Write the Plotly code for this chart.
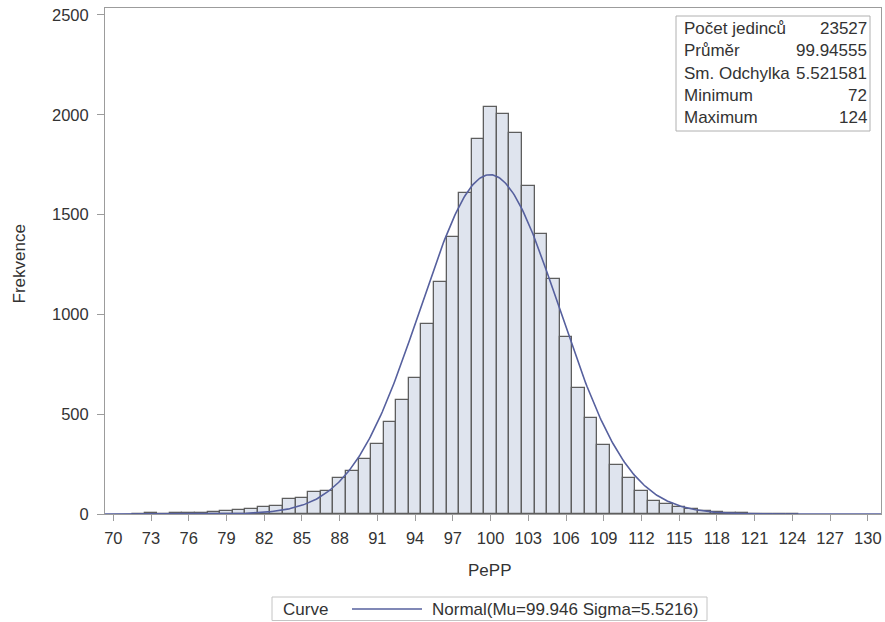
import numpy as np
import plotly.graph_objects as go

# PePP histogram: bin centres (width 1) and frequencies
bin_centers = list(range(72, 125))
frequencies = [
    1, 3, 2, 3, 5, 6, 9,                      # 72-78
    14, 21, 26, 37, 41,                       # 79-83
    74, 79, 112, 117, 178, 213, 275,          # 84-90
    350, 462, 572, 683, 950, 1162, 1387, 1608, 1878,   # 91-99
    2037, 2003, 1908, 1642, 1405, 1175, 887, 630, 480, 346,  # 100-109
    246, 179, 117, 67, 51, 37, 24, 17, 9, 5, 3, 2, 1, 1, 1,  # 110-124
]

# Summary statistics
stat_labels = ["Počet jedinců", "Průměr", "Sm. Odchylka", "Minimum", "Maximum"]
stat_values = ["23527", "99.94555", "5.521581", "72", "124"]

# Fitted normal curve parameters
N_OBS = 23527
MU = 99.946
SIGMA = 5.5216
BIN_WIDTH = 1.0

x_ticks = list(range(70, 131, 3))
y_ticks = [0, 500, 1000, 1500, 2000, 2500]

X_RANGE = [69.34, 131.05]
Y_RANGE = [0, 2535]

FONT = "Liberation Sans, Arial, sans-serif"
TEXT = "#333333"
AXIS = "#9c9c9c"
BAR_FILL = "#dfe4ee"
BAR_LINE = "#5e5e5e"
CURVE = "#56609e"

xs = np.linspace(X_RANGE[0], X_RANGE[1], 600)
curve = N_OBS * BIN_WIDTH / (SIGMA * np.sqrt(2 * np.pi)) * np.exp(-0.5 * ((xs - MU) / SIGMA) ** 2)

fig = go.Figure()
fig.add_trace(go.Bar(
    x=bin_centers, y=frequencies, width=1.0,
    marker=dict(color=BAR_FILL, line=dict(color=BAR_LINE, width=1.3)),
    showlegend=False, hoverinfo="x+y",
))
fig.add_trace(go.Scatter(
    x=xs, y=curve, mode="lines",
    line=dict(color=CURVE, width=1.6),
    showlegend=False, hoverinfo="skip",
))

# plot-area geometry in pixels (for paper-coordinate placement)
W, H = 885, 622
L, R, T, B = 105, 4, 8, 108
pw, ph = W - L - R, H - T - B


def px_x(px):
    return (px - L) / pw


def px_y(py):
    return (H - B - py) / ph


shapes = []
annotations = []

# statistics inset box
shapes.append(dict(type="rect", xref="paper", yref="paper",
                   x0=px_x(676), x1=px_x(870), y0=px_y(131), y1=px_y(16),
                   line=dict(color="#b0b0b0", width=1), fillcolor="white", layer="above"))
row_y = [28.5, 50.8, 73.0, 95.2, 117.4]
for lab, val, yy in zip(stat_labels, stat_values, row_y):
    annotations.append(dict(xref="paper", yref="paper", x=px_x(682), y=px_y(yy),
                            text=lab, showarrow=False, xanchor="left", yanchor="middle",
                            font=dict(family=FONT, size=17, color=TEXT)))
    annotations.append(dict(xref="paper", yref="paper", x=px_x(869), y=px_y(yy),
                            text=val, showarrow=False, xanchor="right", yanchor="middle",
                            font=dict(family=FONT, size=17, color=TEXT)))

# axis titles
annotations.append(dict(xref="paper", yref="paper", x=px_x(489), y=px_y(570),
                        text="PePP", showarrow=False, xanchor="center", yanchor="middle",
                        font=dict(family=FONT, size=17, color=TEXT)))
annotations.append(dict(xref="paper", yref="paper", x=px_x(18.5), y=px_y(264),
                        text="Frekvence", showarrow=False, textangle=-90,
                        xanchor="center", yanchor="middle",
                        font=dict(family=FONT, size=17, color=TEXT)))

# legend below the plot
shapes.append(dict(type="rect", xref="paper", yref="paper",
                   x0=px_x(272), x1=px_x(707), y0=px_y(620.5), y1=px_y(597),
                   line=dict(color="#c4c4c4", width=1), fillcolor="white"))
shapes.append(dict(type="line", xref="paper", yref="paper",
                   x0=px_x(352), x1=px_x(422), y0=px_y(609), y1=px_y(609),
                   line=dict(color=CURVE, width=1.6)))
annotations.append(dict(xref="paper", yref="paper", x=px_x(281), y=px_y(609),
                        text="Curve", showarrow=False, xanchor="left", yanchor="middle",
                        font=dict(family=FONT, size=17, color=TEXT)))
annotations.append(dict(xref="paper", yref="paper", x=px_x(430), y=px_y(609),
                        text=f"Normal(Mu={MU} Sigma={SIGMA})", showarrow=False,
                        xanchor="left", yanchor="middle",
                        font=dict(family=FONT, size=17, color=TEXT)))

fig.update_layout(
    width=W, height=H,
    margin=dict(l=L, r=R, t=T, b=B, pad=0),
    paper_bgcolor="white", plot_bgcolor="white",
    bargap=0,
    shapes=shapes, annotations=annotations,
    showlegend=False,
    font=dict(family=FONT, color=TEXT),
)
fig.update_xaxes(
    range=X_RANGE, tickmode="array", tickvals=x_ticks,
    ticks="outside", ticklen=6, tickcolor=AXIS, tickwidth=1,
    showline=True, linecolor=AXIS, linewidth=1, mirror=True,
    showgrid=False, zeroline=False,
    tickfont=dict(family=FONT, size=16.5, color=TEXT),
    ticklabelstandoff=3,
)
fig.update_yaxes(
    range=Y_RANGE, tickmode="array", tickvals=y_ticks,
    ticks="outside", ticklen=7, tickcolor=AXIS, tickwidth=1,
    showline=True, linecolor=AXIS, linewidth=1, mirror=True,
    showgrid=False, zeroline=False,
    tickfont=dict(family=FONT, size=16.5, color=TEXT),
    ticklabelstandoff=5,
)

fig.write_html("out.html")
